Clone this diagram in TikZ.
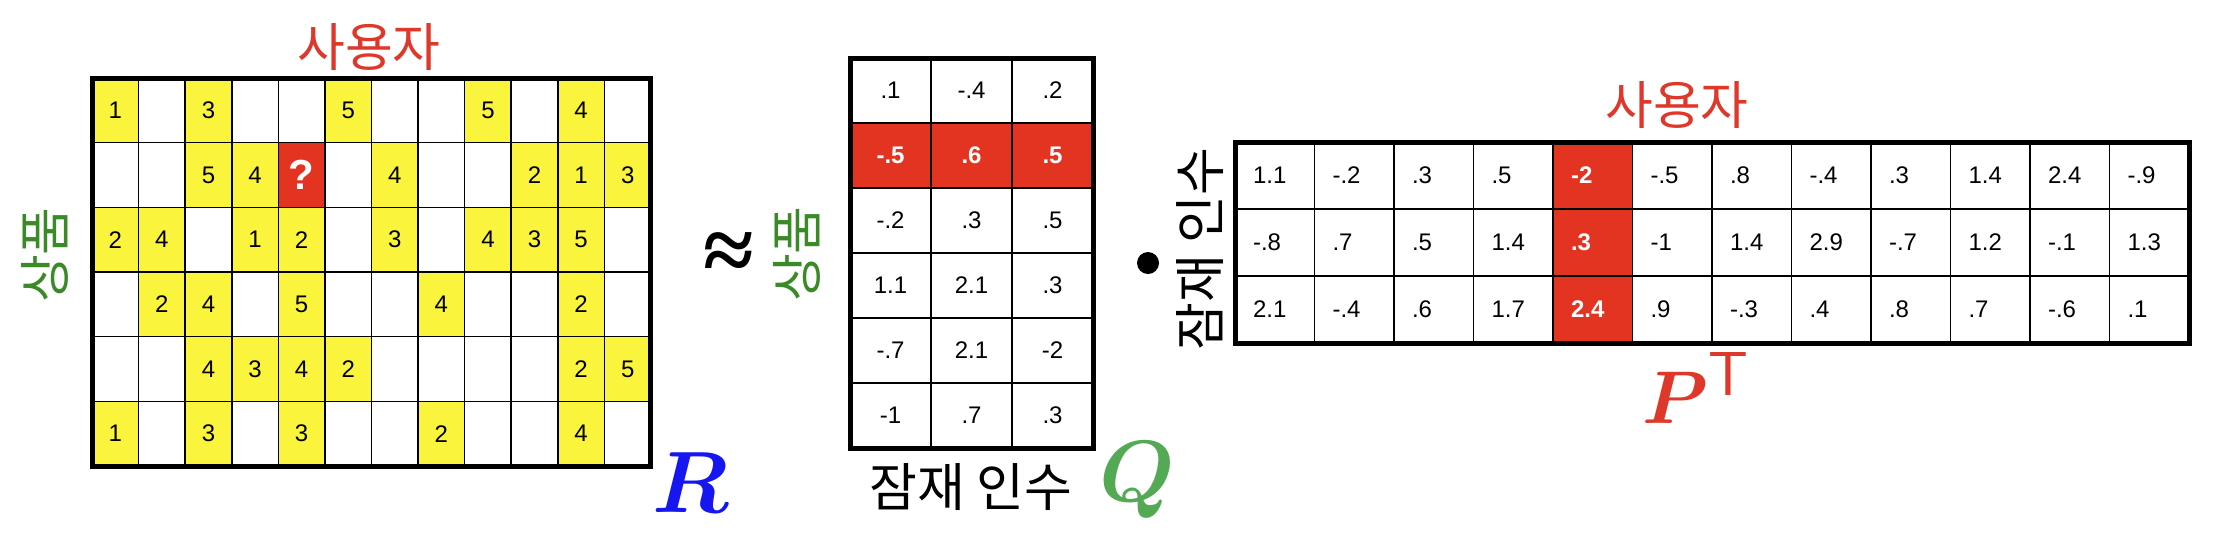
\documentclass[tikz,border=0pt]{standalone}
\usepackage{bm}
\usepackage{fontspec}
\setmainfont{Liberation Sans}
\newfontfamily\kr{Noto Sans CJK KR}
\newfontfamily\sym{Liberation Serif}
\definecolor{ryellow}{RGB}{250,244,60}
\definecolor{rred}{RGB}{226,52,32}
\definecolor{ured}{RGB}{222,56,42}
\definecolor{igreen}{RGB}{58,138,40}
\definecolor{qgreen}{RGB}{84,170,84}
\definecolor{rblue}{RGB}{22,22,240}

\begin{document}
\begin{tikzpicture}[x=0.5pt, y=-0.5pt, every node/.style={inner sep=0pt, outer sep=0pt},
	cell/.style={draw, line width=0.8pt, font=\fontsize{12}{14}\selectfont},
	rcell/.style={cell, minimum width=23.29pt, minimum height=32.33pt},
	qcell/.style={cell, minimum width=40.5pt, minimum height=32.5pt},
	pcell/.style={cell, minimum width=39.75pt, minimum height=33.5pt, inner xsep=9pt, text width=21.75pt, align=left},
	plain/.style={},
	rated/.style={fill=ryellow},
	hot/.style={fill=rred, text=white, font=\fontsize{12}{14}\selectfont\bfseries},
	unknown/.style={hot, font=\fontsize{21}{24}\selectfont\bfseries},
	kor/.style={font=\kr\fontsize{26}{30}\selectfont}]
		\useasboundingbox (0,0) rectangle (2220,536);
		% R
		\foreach \row [count=\i] in {{1,0,3,0,0,5,0,0,5,0,4,0},{0,0,5,4,9,0,4,0,0,2,1,3},{2,4,0,1,2,0,3,0,4,3,5,0},
			{0,2,4,0,5,0,0,4,0,0,2,0},{0,0,4,3,4,2,0,0,0,0,2,5},{1,0,3,0,3,0,0,2,0,0,4,0}}
			\foreach \v [count=\j] in \row {
				\ifnum\v=0 \def\rs{plain}\def\rt{}\else\ifnum\v=9 \def\rs{unknown}\def\rt{?}\else\def\rs{rated}\def\rt{\v}\fi\fi
				\node[rcell, \rs] (r-\i-\j) at ({92+(\j-0.5)*46.58},{78+(\i-0.5)*64.67}) {\rt};
			}
		\draw[line width=2.5pt] (r-1-1.north west) rectangle (r-6-12.south east);
		\node[kor, text=ured] (ruser) at (369,47) {사용자};
		\node[kor, text=igreen, rotate=90] (ritem) at (45,255) {상품};
		\node[text=rblue] (rname) at (691,483) {\scalebox{1.75}{\Huge$\bm{R}$}};
		\node[font=\sym\bfseries\fontsize{46}{46}\selectfont] (approx) at (729,257) {≈};
		% Q
		\foreach \row [count=\i] in {{.1,-.4,.2},{-.5,.6,.5},{-.2,.3,.5},{1.1,2.1,.3},{-.7,2.1,-2},{-1,.7,.3}}
			\foreach \v [count=\j] in \row {
				\ifnum\i=2 \def\qs{hot}\else\def\qs{plain}\fi
				\node[qcell, \qs] (q-\i-\j) at ({850+(\j-0.5)*81},{58+(\i-0.5)*65}) {\v};
			}
		\draw[line width=2.5pt] (q-1-1.north west) rectangle (q-6-3.south east);
		\node[kor, text=igreen, rotate=90] (qitem) at (797,254) {상품};
		\node[kor] (qfac) at (971,487) {잠재 인수};
		\node[text=qgreen] (qname) at (1137,480) {\scalebox{1.75}{\Huge$\bm{Q}$}};
		\node[circle, fill=black, minimum size=11pt] (dot) at (1148,263) {};
		% P transposed
		\foreach \row [count=\i] in {{1.1,-.2,.3,.5,-2,-.5,.8,-.4,.3,1.4,2.4,-.9},{-.8,.7,.5,1.4,.3,-1,1.4,2.9,-.7,1.2,-.1,1.3},
			{2.1,-.4,.6,1.7,2.4,.9,-.3,.4,.8,.7,-.6,.1}}
			\foreach \v [count=\j] in \row {
				\ifnum\j=5 \def\ps{hot}\else\def\ps{plain}\fi
				\node[pcell, \ps] (p-\i-\j) at ({1235+(\j-0.5)*79.5},{142+(\i-0.5)*67}) {\v};
			}
		\draw[line width=2.5pt] (p-1-1.north west) rectangle (p-3-12.south east);
		\node[kor, rotate=90] (pfac) at (1200,249) {잠재 인수};
		\node[kor, text=ured] (puser) at (1677,105) {사용자};
		\node[text=ured] (pname) at (1696,388) {\scalebox{1.5}{\Huge$\bm{P}^{\mathsf{T}}$}};
	\end{tikzpicture}
\end{document}
